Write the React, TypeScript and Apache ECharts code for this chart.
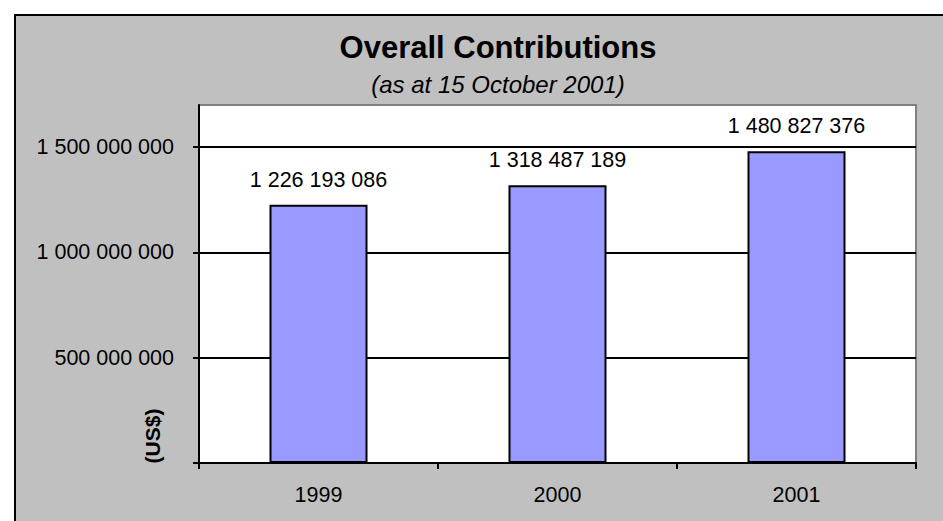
import React, { useEffect, useRef } from "react";
import * as echarts from "echarts";

const categories = ["1999", "2000", "2001"];
const contributions = [1226193086, 1318487189, 1480827376];
const yTickValues = [0, 500000000, 1000000000, 1500000000];
const yLabelValues = [500000000, 1000000000, 1500000000];
const titleText = "Overall Contributions";
const subtitleText = "(as at 15 October 2001)";
const axisUnit = "(US$)";

const FONT = "'Liberation Sans', Arial, Helvetica, sans-serif";

function fmt(v: number): string {
  return String(Math.round(v)).replace(/\B(?=(\d{3})+(?!\d))/g, " ");
}

export default function App() {
  const ref = useRef<HTMLDivElement>(null);
  useEffect(() => {
    document.body.style.margin = "0";
    if (!ref.current) return;
    const chart = echarts.init(ref.current, null, { renderer: "svg" });
    chart.setOption({
      animation: false,
      backgroundColor: "#ffffff",
      graphic: [
        {
          type: "rect",
          z: -10,
          silent: true,
          shape: { x: 15, y: 15, width: 1100, height: 700 },
          style: { fill: "#C0C0C0", stroke: "#000000", lineWidth: 2 },
        },
        {
          type: "text",
          x: 498,
          y: 47,
          style: {
            text: titleText,
            fontFamily: FONT,
            fontSize: 31,
            fontWeight: "bold",
            fill: "#000",
            align: "center",
            verticalAlign: "middle",
          },
        },
        {
          type: "text",
          x: 498,
          y: 84,
          style: {
            text: subtitleText,
            fontFamily: FONT,
            fontSize: 24,
            fontStyle: "italic",
            fill: "#000",
            align: "center",
            verticalAlign: "middle",
          },
        },
        {
          type: "text",
          x: 152,
          y: 436,
          rotation: Math.PI / 2,
          style: {
            text: axisUnit,
            fontFamily: FONT,
            fontSize: 21,
            fontWeight: "bold",
            fill: "#000",
            align: "center",
            verticalAlign: "middle",
          },
        },
      ],
      grid: {
        left: 199,
        top: 105,
        right: 27,
        bottom: 58,
        show: true,
        backgroundColor: "#ffffff",
        borderColor: "#808080",
        borderWidth: 2,
        containLabel: false,
      },
      xAxis: {
        type: "category",
        data: categories,
        boundaryGap: true,
        axisLine: { show: true, lineStyle: { color: "#000", width: 2 } },
        axisTick: { show: true, length: 6, inside: false, lineStyle: { color: "#000", width: 2 } },
        axisLabel: { color: "#000", fontFamily: FONT, fontSize: 21.5, margin: 21 },
        splitLine: { show: false },
      },
      yAxis: {
        type: "value",
        min: 0,
        max: 1700000000,
        interval: 500000000,
        axisLine: { show: true, lineStyle: { color: "#000", width: 2 } },
        axisTick: {
          show: true,
          length: 6,
          inside: false,
          customValues: yTickValues,
          lineStyle: { color: "#000", width: 2 },
        },
        axisLabel: {
          color: "#000",
          fontFamily: FONT,
          fontSize: 21.5,
          margin: 25,
          customValues: yLabelValues,
          formatter: (v: number) => fmt(v),
        },
        splitLine: {
          show: true,
          lineStyle: { color: "#000", width: 2 },
        },
      },
      series: [
        {
          type: "bar",
          data: contributions,
          barWidth: 98,
          itemStyle: { color: "#9999FF", borderColor: "#000", borderWidth: 2 },
          label: {
            show: true,
            position: "top",
            distance: 14,
            color: "#000",
            fontFamily: FONT,
            fontSize: 21.5,
            formatter: (p: any) => fmt(p.value),
          },
        },
      ],
    });
    return () => chart.dispose();
  }, []);
  return <div ref={ref} style={{ width: 943, height: 521 }} />;
}
